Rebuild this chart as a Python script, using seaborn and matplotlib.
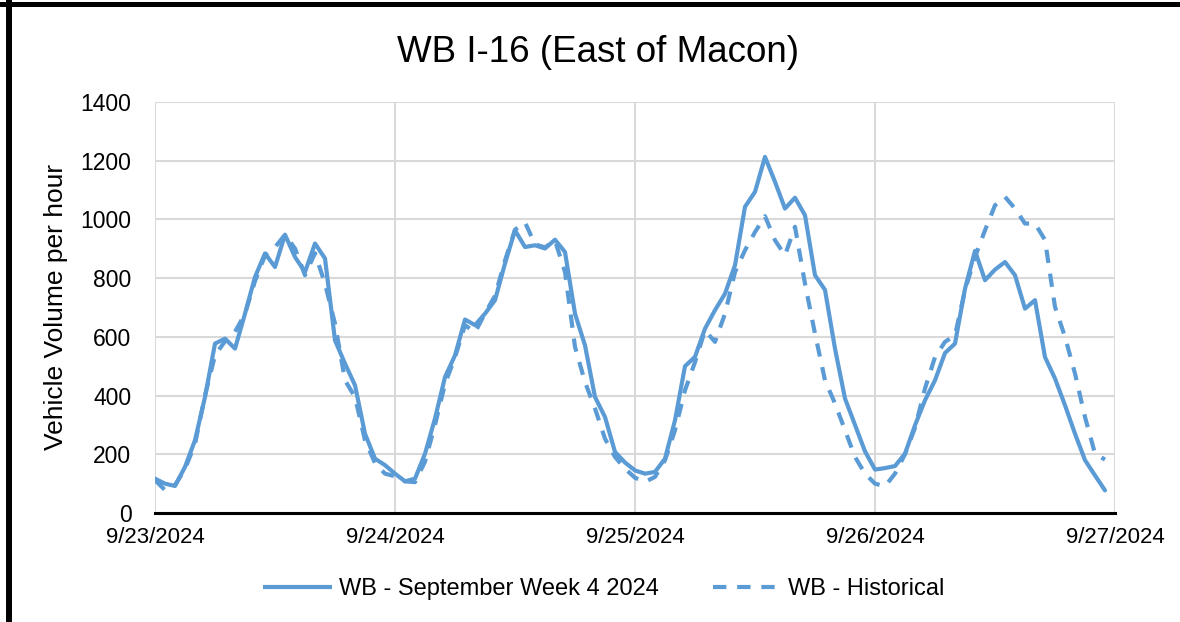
import numpy as np
import pandas as pd
import matplotlib
matplotlib.use("Agg")
import matplotlib.pyplot as plt
from matplotlib.lines import Line2D
import seaborn as sns

# Hourly westbound volumes, 9/23/2024 00:00 through 9/26/2024 23:00
week4_2024 = [
    117, 100, 92, 157, 248, 395, 577, 594, 560, 679, 804, 884,
    838, 948, 872, 821, 918, 867, 588, 509, 435, 270, 185, 163,
    134, 108, 117, 202, 322, 463, 537, 659, 640, 679, 725, 850,
    963, 906, 912, 901, 931, 889, 679, 571, 395, 327, 208, 172,
    145, 134, 140, 185, 316, 500, 532, 628, 691, 747, 844, 1043,
    1094, 1213, 1128, 1037, 1074, 1014, 810, 760, 560, 390, 300, 210,
    148, 153, 160, 202, 299, 384, 452, 545, 577, 764, 893, 793,
    829, 855, 810, 696, 725, 531, 458, 367, 270, 180, 128, 77,
]
historical = [
    112, 78, 95, 150, 235, 400, 537, 585, 617, 679, 790, 877,
    905, 948, 901, 810, 885, 781, 645, 452, 395, 248, 170, 134,
    125, 108, 105, 175, 300, 440, 530, 640, 615, 680, 740, 860,
    965, 990, 915, 905, 928, 821, 566, 446, 356, 253, 191, 151,
    120, 106, 123, 180, 282, 418, 514, 622, 583, 679, 821, 895,
    957, 1011, 929, 878, 975, 781, 611, 452, 373, 282, 191, 134,
    100, 91, 134, 200, 290, 424, 531, 583, 605, 759, 872, 963,
    1048, 1077, 1037, 986, 986, 930, 702, 600, 475, 327, 202, 182,
]
series_names = ["WB - September Week 4 2024", "WB - Historical"]
day_ticks = ["2024-09-23", "2024-09-24", "2024-09-25", "2024-09-26", "2024-09-27"]
y_ticks = [0, 200, 400, 600, 800, 1000, 1200, 1400]

times = pd.date_range("2024-09-23 00:00", periods=len(week4_2024), freq="h")
df = pd.concat([
    pd.DataFrame({"time": times, "volume": week4_2024, "series": series_names[0]}),
    pd.DataFrame({"time": times, "volume": historical, "series": series_names[1]}),
], ignore_index=True)

sns.set_style("white")
plt.rcParams["font.family"] = ["Liberation Sans", "DejaVu Sans"]
plt.rcParams["text.color"] = "black"

blue = "#5B9BD5"
dash_pattern = (3.2, 2.6)
fig = plt.figure(figsize=(11.8, 6.22), dpi=100)
ax = fig.add_axes([155 / 1180, 1 - 513 / 622, 960 / 1180, 411 / 622])

sns.lineplot(
    data=df, x="time", y="volume", hue="series", style="series",
    palette=[blue, blue], dashes={series_names[0]: "", series_names[1]: dash_pattern},
    linewidth=3.0, ax=ax, legend=False,
)
for ln in ax.get_lines():
    ln.set_solid_joinstyle("round")
    ln.set_dash_joinstyle("round")
    ln.set_solid_capstyle("round")

x_days = pd.to_datetime(day_ticks)
ax.set_xlim(x_days[0], x_days[-1])
ax.set_ylim(0, 1400)
ax.set_xticks(x_days)
ax.set_xticklabels([f"{d.month}/{d.day}/{d.year}" for d in x_days])
ax.set_yticks(y_ticks)
ax.set_yticklabels([str(v) for v in y_ticks])
ax.tick_params(axis="both", length=0, colors="black")
ax.tick_params(axis="y", pad=17, labelsize=16.5)
ax.tick_params(axis="x", pad=10, labelsize=16)
ax.set_xlabel("")
ax.set_ylabel("")

ax.grid(True, color="#d9d9d9", linewidth=1.5)
ax.set_axisbelow(True)
for side in ["left", "top", "right"]:
    ax.spines[side].set_visible(False)
ax.spines["bottom"].set_color("black")
ax.spines["bottom"].set_linewidth(2.2)
ax.spines["bottom"].set_zorder(5)

fig.text(598 / 1180, 1 - 52 / 622, "WB I-16 (East of Macon)", fontsize=26.5,
         ha="center", va="center", color="black")
fig.text(56 / 1180, 1 - 307 / 622, "Vehicle Volume per hour", fontsize=19,
         rotation=90, ha="center", va="center", color="black")

handles = [
    Line2D([], [], color=blue, linewidth=3.0, solid_capstyle="butt"),
    Line2D([], [], color=blue, linewidth=3.0, linestyle=(0, dash_pattern)),
]
fig.legend(handles, series_names, loc="center", bbox_to_anchor=(604 / 1180, 1 - 589 / 622),
           ncol=2, frameon=False, fontsize=17, handlelength=2.9, handletextpad=0.3,
           columnspacing=2.3, labelcolor="black")

# Frame strokes along the left and top edges
fig.add_artist(Line2D([9 / 1180, 9 / 1180], [0, 1], transform=fig.transFigure,
                      color="black", linewidth=4.3))
fig.add_artist(Line2D([0, 1], [1 - 4 / 622, 1 - 4 / 622], transform=fig.transFigure,
                      color="black", linewidth=3.6))

fig.savefig("out.png", dpi=100, facecolor="white")
